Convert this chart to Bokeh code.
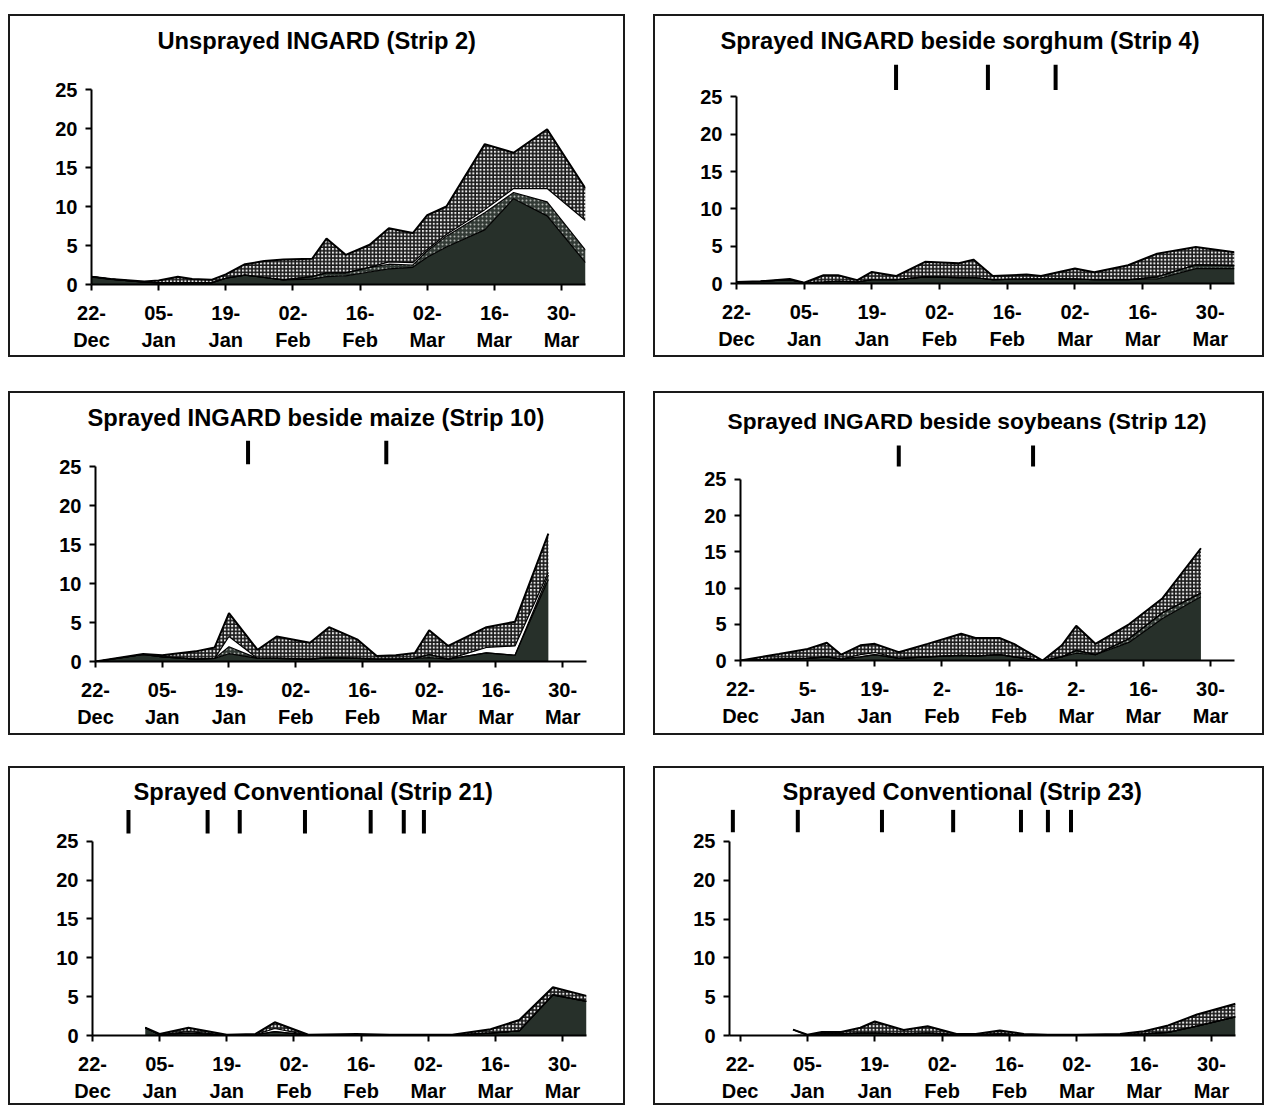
import numpy as np
from bokeh.plotting import figure
from bokeh.models import Range1d, FixedTicker
from bokeh.layouts import row, column
from bokeh.embed import file_html
from bokeh.resources import INLINE

FONT = "Liberation Sans"

# ---------------- data (days after 22 Dec) ----------------
tick_days = [0, 14, 28, 42, 56, 70, 84, 98]
tick_labels_a = ["22-\nDec", "05-\nJan", "19-\nJan", "02-\nFeb", "16-\nFeb", "02-\nMar", "16-\nMar", "30-\nMar"]
tick_labels_b = ["22-\nDec", "5-\nJan", "19-\nJan", "2-\nFeb", "16-\nFeb", "2-\nMar", "16-\nMar", "30-\nMar"]

# Panel 1: Unsprayed INGARD (Strip 2)
days1 = [0, 4, 11, 14, 18, 21, 25, 28, 32, 36, 40, 46, 49, 53, 58, 62, 67, 70, 74, 82, 88, 95, 103]
dark1 = [1.0, 0.7, 0.3, 0.2, 0.2, 0.2, 0.2, 0.8, 1.2, 0.9, 0.6, 0.7, 1.0, 1.1, 1.6, 2.0, 2.2, 3.5, 4.8, 7.0, 11.0, 8.8, 2.8]
dstip1 = [0, 0, 0, 0, 0, 0, 0, 0, 0, 0, 0, 0.3, 0.5, 0.4, 0.6, 0.6, 0.3, 0.8, 1.4, 2.2, 0.8, 1.8, 1.6]
white1 = [0, 0, 0, 0, 0, 0, 0, 0, 0, 0, 0, 0, 0, 0, 0, 0.3, 0.3, 0.2, 0.2, 0.4, 0.5, 1.7, 3.8]
stip1 = [0, 0, 0.1, 0.3, 0.8, 0.5, 0.4, 0.5, 1.4, 2.1, 2.6, 2.3, 4.4, 2.3, 2.9, 4.3, 3.8, 4.4, 3.6, 8.4, 4.6, 7.6, 4.1]

# Panel 2: Sprayed INGARD beside sorghum (Strip 4)
days2 = [0, 5, 11, 14, 18, 21, 25, 28, 33, 39, 46, 49, 53, 60, 63, 70, 74, 81, 87, 95, 103]
dark2 = [0.2, 0.3, 0.5, 0.1, 0.2, 0.3, 0.2, 0.5, 0.5, 0.9, 0.8, 0.8, 0.5, 0.6, 0.6, 0.6, 0.5, 0.5, 0.6, 2.0, 2.0]
dstip2 = [0, 0, 0, 0, 0, 0, 0, 0, 0, 0, 0, 0, 0, 0, 0, 0, 0, 0, 0.3, 0.5, 0.4]
white2 = [0] * 21
stip2 = [0, 0, 0.1, 0, 0.9, 0.8, 0.25, 1.05, 0.5, 2.0, 1.9, 2.4, 0.5, 0.6, 0.4, 1.4, 1.0, 1.95, 3.1, 2.4, 1.8]
spray2 = [33, 52, 66]

# Panel 3: Sprayed INGARD beside maize (Strip 10)
days3 = [0, 10, 14, 21, 25, 28, 34, 38, 45, 49, 55, 59, 63, 67, 70, 74, 82, 88, 95]
dark3 = [0, 0.9, 0.6, 0.3, 0.4, 1.0, 0.4, 0.4, 0.3, 0.5, 0.4, 0.3, 0.3, 0.4, 0.5, 0.3, 1.1, 0.8, 10.5]
dstip3 = [0, 0, 0, 0, 0, 0.9, 0, 0, 0, 0, 0, 0, 0, 0, 0.4, 0, 0, 0, 0.6]
white3 = [0, 0, 0, 0, 0, 1.3, 0, 0, 0, 0, 0, 0, 0, 0, 0, 0, 0.7, 1.2, 0.3]
stip3 = [0, 0.05, 0.2, 1.0, 1.4, 3.0, 1.1, 2.8, 2.1, 3.9, 2.4, 0.4, 0.5, 0.7, 3.1, 1.7, 2.6, 3.1, 5.0]
spray3 = [32, 61]

# Panel 4: Sprayed INGARD beside soybeans (Strip 12)
days4 = [0, 8, 14, 18, 21, 25, 28, 33, 39, 46, 49, 54, 57, 63, 67, 70, 74, 81, 88, 96]
dark4 = [0, 0.2, 0.3, 0.5, 0.2, 0.5, 0.8, 0.3, 0.5, 0.7, 0.6, 0.8, 0.5, 0, 0.5, 1.0, 0.8, 2.5, 5.8, 8.8]
dstip4 = [0, 0, 0, 0, 0, 0, 0, 0, 0, 0, 0, 0, 0, 0, 0, 0.4, 0, 0.5, 0.8, 0.5]
white4 = [0, 0, 0, 0, 0, 0.3, 0.3, 0, 0, 0, 0, 0, 0, 0, 0, 0, 0, 0, 0, 0]
stip4 = [0, 0.7, 1.3, 1.95, 0.6, 1.3, 1.2, 0.85, 1.8, 3.0, 2.5, 2.3, 1.8, 0, 1.6, 3.4, 1.5, 2.0, 2.0, 6.2]
spray4 = [33, 61]

# Panel 5: Sprayed Conventional (Strip 21)
days5 = [11, 14, 20, 28, 34, 38, 45, 55, 62, 75, 83, 89, 96, 103]
dark5 = [1.0, 0.1, 0.3, 0.05, 0.1, 0.5, 0.05, 0.1, 0.05, 0.05, 0.3, 0.6, 5.2, 4.4]
dstip5 = [0] * 14
white5 = [0, 0, 0.2, 0, 0, 0.4, 0, 0, 0, 0, 0, 0, 0.1, 0]
stip5 = [0, 0.1, 0.5, 0.05, 0.1, 0.8, 0.05, 0.1, 0.05, 0.05, 0.5, 1.4, 0.9, 0.7]
spray5 = [7.5, 24, 30.7, 44.3, 58, 64.9, 69.1]

# Panel 6: Sprayed Conventional (Strip 23)
days6 = [11, 14, 17, 21, 25, 28, 34, 39, 45, 49, 54, 59, 64, 70, 79, 84, 89, 95, 103]
dark6 = [0, 0.05, 0.2, 0.2, 0.3, 0.3, 0.2, 0.3, 0.1, 0.1, 0.2, 0.1, 0.05, 0.05, 0.1, 0.2, 0.4, 1.2, 2.4]
dstip6 = [0] * 19
white6 = [0.75] + [0] * 18
stip6 = [0, 0.05, 0.25, 0.25, 0.7, 1.5, 0.5, 0.9, 0.1, 0.1, 0.45, 0.1, 0.05, 0.05, 0.1, 0.35, 0.9, 1.5, 1.7]
spray6 = [-1.5, 12, 29.5, 44.3, 58.4, 64, 68.8]

# ---------------- styles ----------------
LAYER_STYLES = [
    dict(fill_color="#27302a"),
    dict(fill_color="#323a35", hatch_pattern="dot", hatch_color="#b0b4b0", hatch_scale=4, hatch_weight=1),
    dict(fill_color="white"),
    dict(fill_color="#e8e8e8", hatch_pattern="cross", hatch_color="#1a1a1a", hatch_scale=3.6, hatch_weight=1.65),
]


def make_panel(title, days, layers, sprays, tick_labels, width, height,
               mbl, mbr, mbt, mbb, x0, ymax, t_offset, t_standoff, spray_y, t_size="23.7px"):
    p = figure(width=width, height=height, x_range=Range1d(x0, 103), y_range=Range1d(0, ymax),
               output_backend="svg", toolbar_location=None, title=title,
               min_border_left=mbl, min_border_right=mbr, min_border_top=mbt, min_border_bottom=mbb)
    p.frame_align = False
    p.title.align = "left"
    p.title.vertical_align = "top"
    p.title.offset = t_offset
    p.title.standoff = t_standoff
    p.title.text_font = FONT
    p.title.text_font_size = t_size
    p.title.text_font_style = "bold"
    p.title.text_color = "black"
    p.outline_line_color = None
    p.border_fill_color = None
    p.background_fill_color = "white"
    p.xgrid.visible = False
    p.ygrid.visible = False
    p.styles = {"outline": "2px solid #1a1a1a", "outline-offset": "-2px"}

    x = np.array(days, dtype=float)
    cum = np.zeros_like(x)
    tops = []
    for vals, st in zip(layers, LAYER_STYLES):
        top = cum + np.array(vals, dtype=float)
        p.varea(x=x, y1=cum, y2=top, **st)
        tops.append(top)
        cum = top
    for i, top in enumerate(tops):
        p.line(x, top, line_color="black", line_width=2 if i == len(tops) - 1 else 1.2)

    if sprays:
        p.segment(x0=sprays, y0=[spray_y[0]] * len(sprays), x1=sprays, y1=[spray_y[1]] * len(sprays),
                  line_color="black", line_width=4)

    for ax in (p.xaxis[0], p.yaxis[0]):
        ax.axis_line_width = 2
        ax.axis_line_color = "black"
        ax.major_tick_line_width = 2
        ax.major_tick_line_color = "black"
        ax.major_tick_in = 0
        ax.major_tick_out = 6
        ax.minor_tick_line_color = None
        ax.major_label_text_font = FONT
        ax.major_label_text_font_size = "20px"
        ax.major_label_text_font_style = "bold"
        ax.major_label_text_color = "black"
        ax.major_label_standoff = 8
    p.xaxis.ticker = FixedTicker(ticks=tick_days)
    p.xaxis.major_label_overrides = {d: l for d, l in zip(tick_days, tick_labels)}
    p.xaxis.major_label_text_line_height = 1.25
    p.xaxis.major_label_standoff = 11
    p.yaxis.ticker = FixedTicker(ticks=[0, 5, 10, 15, 20, 25])
    p.yaxis.bounds = (0, 25)
    return p


p1 = make_panel("Unsprayed INGARD (Strip 2)", days1, [dark1, dstip1, white1, stip1], [], tick_labels_a,
                617, 343, 83, 40, 45, 73, 0, 28.85, 66, 5.5, (0, 0))
p2 = make_panel("Sprayed INGARD beside sorghum (Strip 4)", days2, [dark2, dstip2, white2, stip2], spray2, tick_labels_a,
                611, 343, 83, 30, 45, 74, 0, 30, -16, 5.5, (25.9, 29.3))
p3 = make_panel("Sprayed INGARD beside maize (Strip 10)", days3, [dark3, dstip3, white3, stip3], spray3, tick_labels_a,
                617, 344, 87, 39, 45, 74, 0, 28.85, -8, 5.5, (25.3, 28.3))
p4 = make_panel("Sprayed INGARD beside soybeans (Strip 12)", days4, [dark4, dstip4, white4, stip4], spray4, tick_labels_b,
                611, 344, 87, 30, 51, 75, 0, 30.1, -13, 13, (26.8, 29.7), t_size="22.7px")
p5 = make_panel("Sprayed Conventional (Strip 21)", days5, [dark5, dstip5, white5, stip5], spray5, tick_labels_a,
                617, 339, 84, 39, 43, 68, 0, 29.08, 41, 5, (26.0, 29.0))
p6 = make_panel("Sprayed Conventional (Strip 23)", days6, [dark6, dstip6, white6, stip6], spray6, tick_labels_a,
                611, 339, 76, 29, 43, 70, -2.2, 29.12, 53, 5, (26.2, 29.1))

r1 = row(p1, p2, spacing=28)
r2 = row(p3, p4, spacing=28)
r3 = row(p5, p6, spacing=28)
r2.margin = (34, 0, 0, 0)
r3.margin = (31, 0, 0, 0)
layout = column(r1, r2, r3)
layout.margin = (14, 0, 0, 8)

open("out.html", "w").write(file_html(layout, INLINE))
